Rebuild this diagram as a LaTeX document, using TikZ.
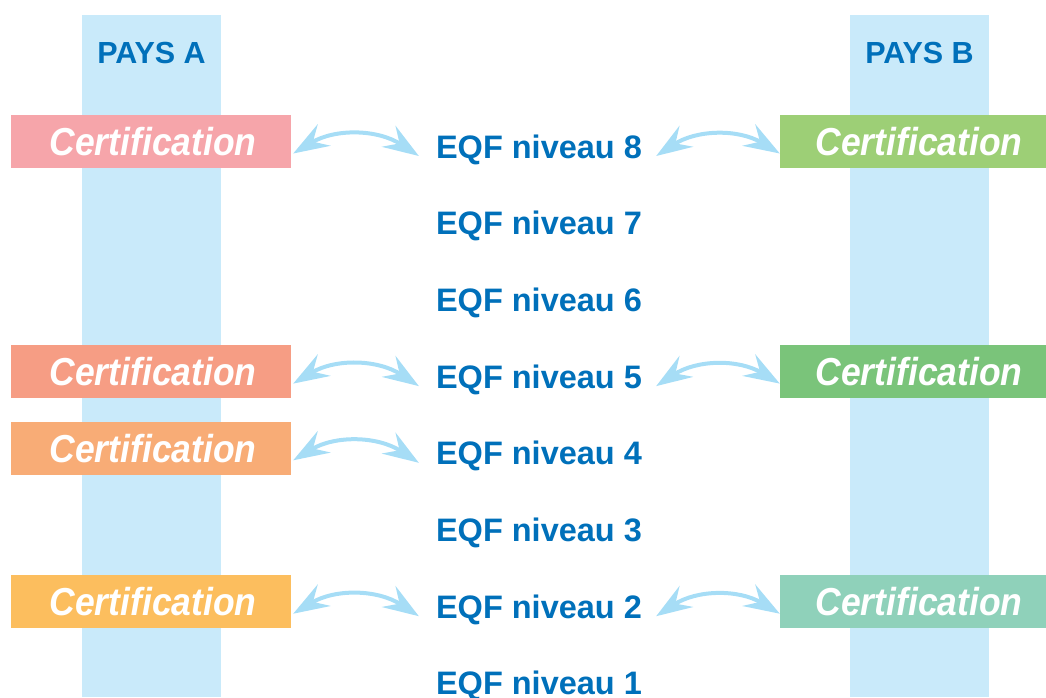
\documentclass[tikz,border=0pt]{standalone}
\usepackage{fontspec}
\setmainfont{Liberation Sans}
\newfontfamily\certfont[FakeStretch=0.91]{Liberation Sans}
\usetikzlibrary{arrows.meta,calc}

\definecolor{band}{RGB}{201,234,250}
\definecolor{eqfblue}{RGB}{0,112,186}
\definecolor{linkblue}{RGB}{166,221,246}
\definecolor{pinkA}{RGB}{246,165,170}
\definecolor{salmonA}{RGB}{246,157,132}
\definecolor{orangeA}{RGB}{248,172,118}
\definecolor{yellowA}{RGB}{252,190,94}
\definecolor{greenB}{RGB}{157,207,118}
\definecolor{midgreenB}{RGB}{122,196,122}
\definecolor{tealB}{RGB}{143,209,186}

\tikzset{
  x=1pt, y=-1pt,
  certbox/.style={rectangle, inner sep=0pt, minimum height=53pt},
  certtext/.style={inner sep=0pt, text=white, text height=28pt, text depth=0pt,
    font=\certfont\bfseries\itshape\fontsize{39}{42}\selectfont},
  level/.style={inner sep=0pt, anchor=base, text=eqfblue,
    font=\bfseries\fontsize{32.5}{36}\selectfont},
  country/.style={inner sep=0pt, anchor=base, text=eqfblue,
    font=\bfseries\fontsize{30.5}{34}\selectfont},
  linktip/.style={Stealth[length=36pt,width=25pt,inset=13pt]},
  link/.style={draw=linkblue, line width=4pt, bend left=32,
    {Stealth[length=36pt,width=25pt,inset=13pt]}-{Stealth[length=36pt,width=25pt,inset=13pt]}},
}

\begin{document}
\begin{tikzpicture}
\useasboundingbox (0,0) rectangle (1046,697);

% country columns
\fill[band] (82,15) rectangle (221,697);
\fill[band] (850,15) rectangle (989,697);
\node[country] (paysA) at (151.5,63.5) {PAYS A};
\node[country] (paysB) at (919.5,63.5) {PAYS B};

% EQF levels, level 8 on top
\foreach \n in {1,...,8}{
  \node[level] (e\n) at (539,{158 + 76.7*(8-\n)}) {EQF niveau \n};
}

% country A certifications
\foreach \lv/\col in {8/pinkA,5/salmonA,4/orangeA,2/yellowA}{
  \node[certbox, fill=\col, minimum width=280pt] (a\lv) at (151,{141.5 + 76.7*(8-\lv)}) {};
  \node[certtext] (at\lv) at ([xshift=2pt]a\lv.center) {Certification};
  \draw[link] ([xshift=2pt,yshift=-12pt]a\lv.east) to ([xshift=-17pt,yshift=2pt]e\lv.base west);
}

% country B certifications
\foreach \lv/\col in {8/greenB,5/midgreenB,2/tealB}{
  \node[certbox, fill=\col, minimum width=266pt] (b\lv) at (913,{141.5 + 76.7*(8-\lv)}) {};
  \node[certtext] (bt\lv) at ([xshift=6pt]b\lv.center) {Certification};
  \draw[link] ([xshift=14pt,yshift=2pt]e\lv.base east) to ([yshift=-12pt]b\lv.west);
}
\end{tikzpicture}
\end{document}
